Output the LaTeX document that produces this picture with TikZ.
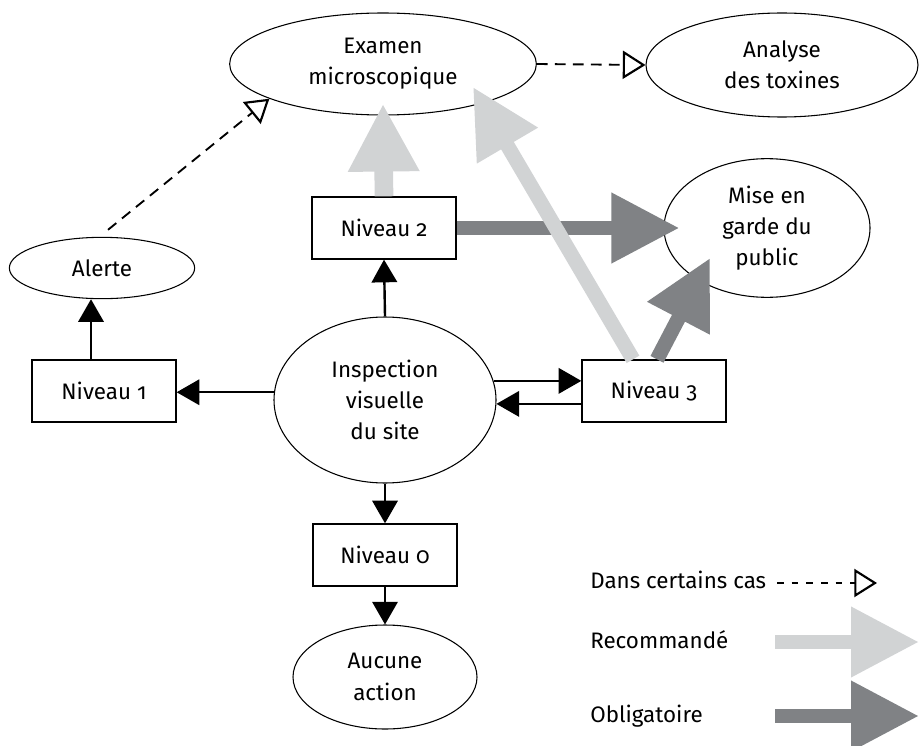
\documentclass[tikz,border=0pt]{standalone}
\usepackage{fontspec}
\setmainfont[Numbers=OldStyle]{Fira Sans}
\usepackage{tikz}
\usetikzlibrary{positioning}
\usetikzlibrary{calc}
\usetikzlibrary{shapes.geometric}
\usetikzlibrary{arrows.meta}
\definecolor{recgray}{HTML}{D1D3D4}
\definecolor{oblgray}{HTML}{808285}
\tikzset{oval/.style={%
        ellipse,
        draw=black,
        line width=0.8pt,
        inner sep=0pt,
        align=center,
        font=\fontsize{16.8}{23.5}\selectfont
    }}
\tikzset{levelbox/.style={%
        rectangle,
        draw=black,
        line width=1pt,
        minimum width=108pt,
        minimum height=46.5pt,
        inner sep=0pt,
        font=\fontsize{16.8}{23.5}\selectfont
    }}
\tikzset{keytext/.style={anchor=base west, inner sep=0pt, font=\fontsize{16.8}{23.5}\selectfont}}
\tikzset{flow/.style={line width=1.8pt, -{Triangle[length=17pt,width=19pt]}}}
\tikzset{maybe/.style={line width=1.4pt, dash pattern=on 8pt off 5.5pt,
        -{Triangle[open,length=17pt,width=21pt,line width=1.6pt]}}}
\tikzset{recommended/.style={draw=recgray, line width=11pt, -{Triangle[length=51pt,width=50pt]}}}
\tikzset{mandatory/.style={draw=oblgray, line width=11pt, -{Triangle[length=51pt,width=50pt]}}}

\begin{document}
\begin{tikzpicture}[x=0.75pt,y=-0.75pt]
    \useasboundingbox (0,0) rectangle (919,745);

    \node [oval, minimum width=230pt, minimum height=76.5pt] (exam) at (383,64) {Examen\\microscopique};
    \node [oval, minimum width=204pt, minimum height=78pt] (toxin) at (782,65) {Analyse\\des toxines};
    \node [oval, minimum width=139pt, minimum height=46pt] (alert) at (102,268) {Alerte};
    \node [oval, minimum width=154.5pt, minimum height=104pt] (warn) at (767,228) {Mise en\\garde du\\public};
    \node [oval, minimum width=166.5pt, minimum height=124.5pt] (visual) at (385,400) {Inspection\\visuelle\\du site};
    \node [oval, minimum width=138pt, minimum height=78pt] (none) at (385,677) {Aucune\\action};

    \node [levelbox] (lvl2) at (384,228) {Niveau 2};
    \node [levelbox] (lvl1) at (104,391) {Niveau 1};
    \node [levelbox] (lvl3) at (654,391) {Niveau 3};
    \node [levelbox] (lvl0) at (385,555) {Niveau 0};

    % black arrows
    \draw[flow] (visual.north) -- (lvl2.south);
    \draw[flow] (visual.176) -- (lvl1.east |- visual.176);
    \draw[flow] (visual.south) -- (lvl0.north);
    \draw[flow] (lvl0.south) -- (none.north);
    \draw[flow] (visual.10) -- (lvl3.west |- visual.10);
    \draw[flow] (lvl3.west |- visual.-2) -- (visual.-2);
    \coordinate (up1) at ($(lvl1.north)+(-13,0)$);
    \draw[flow] (up1) -- (up1 |- alert.south);

    % in some cases
    \draw[maybe] ($(alert.north)+(6,-7)$) -- (exam.197);
    \draw[maybe] (exam.east) -- (toxin.west);

    % mandatory and recommended
    \draw[mandatory] (lvl2.east) -- ($(warn.west)+(16,0)$);
    \draw[mandatory] ($(lvl3.north)+(3,0)$) -- ($(warn.center)+(-57,30)$);
    \draw[recommended, line width=14pt] (lvl2.north) -- ($(exam.south)+(0,-12)$);
    \draw[recommended] ($(lvl3.north)+(-21,0)$) -- ($(exam.center)+(90,23)$);

    % key
    \node [keytext] (k1) at (590,588) {Dans certains cas};
    \node [keytext] (k2) at (590,648) {Recommandé};
    \node [keytext] (k3) at (590,722) {Obligatoire};
    \coordinate (k1a) at (777,583);
    \coordinate (k1b) at (877,583);
    \coordinate (k2a) at (775,642);
    \coordinate (k2b) at (919,642);
    \coordinate (k3a) at (775,716);
    \coordinate (k3b) at (919,716);
    \draw[maybe, line width=0.9pt, dash pattern=on 5pt off 6pt] (k1a) -- (k1b);
    \draw[recommended] (k2a) -- (k2b);
    \draw[mandatory] (k3a) -- (k3b);
\end{tikzpicture}
\end{document}
